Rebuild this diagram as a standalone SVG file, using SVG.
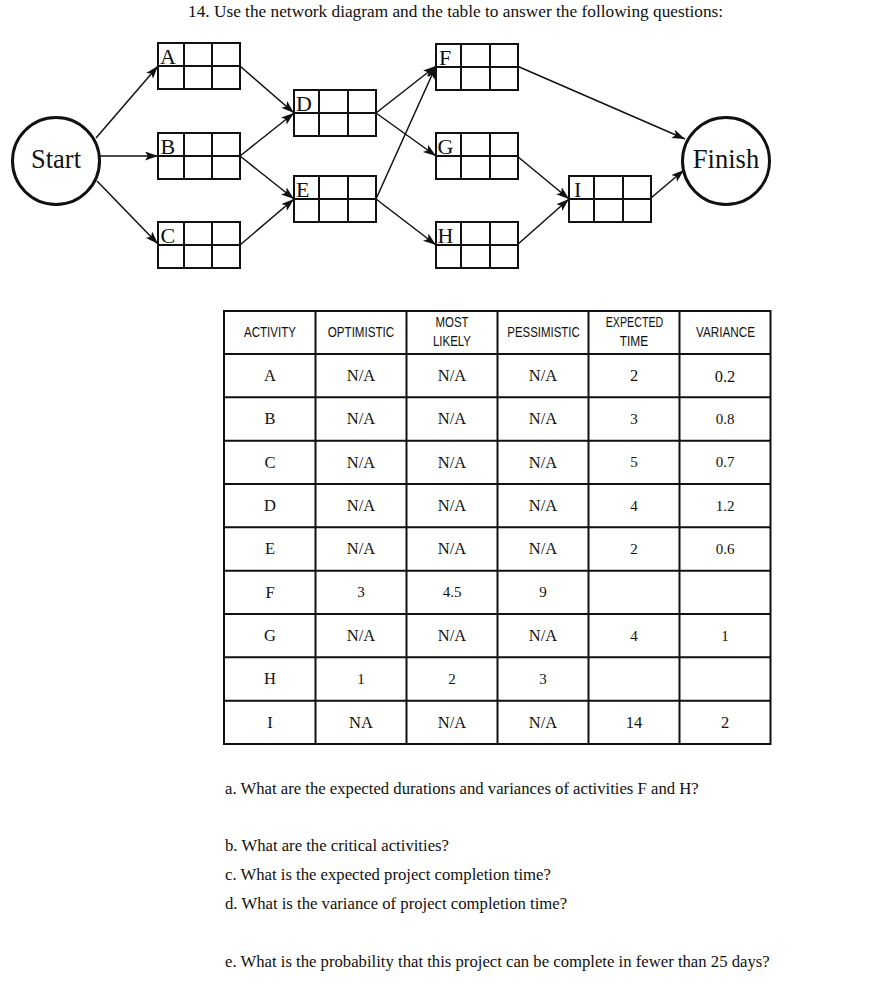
<svg xmlns="http://www.w3.org/2000/svg" width="876" height="994" viewBox="0 0 876 994">
<defs>
<style>
.bg{fill:#fff}
.box{fill:#fff;stroke:#111;stroke-width:2}
.cell{stroke:#111;stroke-width:2;fill:none}
.circ{fill:#fff;stroke:#111;stroke-width:3}
.lbl{font-family:"Liberation Serif","Times New Roman",serif;font-size:22px;fill:#111}
.big{font-family:"Liberation Serif","Times New Roman",serif;font-size:26.5px;fill:#111;text-anchor:middle}
.edge{stroke:#111;stroke-width:1.5;fill:none;marker-end:url(#ah)}
.grid{stroke:#111;stroke-width:2;fill:none}
.hd{font-family:"Liberation Sans",Arial,sans-serif;font-size:14.5px;fill:#111;text-anchor:middle}
.td{font-family:"Liberation Serif","Times New Roman",serif;font-size:16.5px;fill:#111;text-anchor:middle}
.sm{font-size:15px}
.q{font-family:"Liberation Serif","Times New Roman",serif;font-size:16.7px;fill:#111}
</style>
<marker id="ah" markerUnits="userSpaceOnUse" markerWidth="14" markerHeight="10" refX="13" refY="4.5" orient="auto">
<path d="M0,0 L13,4.5 L0,9 L3,4.5 z" fill="#111"/>
</marker>
</defs>
<rect class="bg" x="0" y="0" width="876" height="994"/>
<text id="title" x="188" y="17" font-family="'Liberation Serif','Times New Roman',serif" font-size="17.3" fill="#111">14. Use the network diagram and the table to answer the following questions:</text>

<g id="connectors">
<line class="edge" x1="96" y1="138" x2="158" y2="66"/>
<line class="edge" x1="100" y1="156" x2="158" y2="156"/>
<line class="edge" x1="97" y1="181" x2="158" y2="244"/>
<line class="edge" x1="240" y1="66" x2="294" y2="113"/>
<line class="edge" x1="240" y1="156" x2="294" y2="113"/>
<line class="edge" x1="240" y1="156" x2="294" y2="199"/>
<line class="edge" x1="240" y1="245" x2="294" y2="199"/>
<line class="edge" x1="376" y1="113" x2="436" y2="66"/>
<line class="edge" x1="376" y1="113" x2="436" y2="156"/>
<line class="edge" x1="376" y1="199" x2="436" y2="66"/>
<line class="edge" x1="376" y1="199" x2="436" y2="245"/>
<line class="edge" x1="517" y1="66" x2="685" y2="139"/>
<line class="edge" x1="517" y1="156" x2="569" y2="199"/>
<line class="edge" x1="517" y1="245" x2="569" y2="199"/>
<line class="edge" x1="651" y1="198" x2="684" y2="170"/>
</g>

<g id="start"><circle class="circ" cx="56" cy="161" r="43.5"/><text class="big" x="56" y="168">Start</text></g>
<g id="finish"><circle class="circ" cx="726" cy="161" r="43.5"/><text class="big" x="726" y="168">Finish</text></g>

<g id="A"><rect class="box" x="158" y="43" width="82" height="46"/><path class="cell" d="M158,66H240M184,43V89M212,43V89"/><text class="lbl" x="160" y="63.5">A</text></g>
<g id="B"><rect class="box" x="158" y="133" width="82" height="46"/><path class="cell" d="M158,156H240M184,133V179M212,133V179"/><text class="lbl" x="160.5" y="153.5">B</text></g>
<g id="C"><rect class="box" x="158" y="222" width="82" height="46"/><path class="cell" d="M158,245H240M184,222V268M212,222V268"/><text class="lbl" x="160.5" y="242.5">C</text></g>
<g id="D"><rect class="box" x="294" y="90" width="82" height="46"/><path class="cell" d="M294,113H376M319,90V136M348,90V136"/><text class="lbl" x="296" y="110.5">D</text></g>
<g id="E"><rect class="box" x="294" y="176" width="82" height="46"/><path class="cell" d="M294,199H376M319,176V222M348,176V222"/><text class="lbl" x="296" y="196.5">E</text></g>
<g id="F"><rect class="box" x="436" y="44" width="82" height="46"/><path class="cell" d="M436,67H518M461,44V90M490,44V90"/><text class="lbl" x="439" y="64.5">F</text></g>
<g id="G"><rect class="box" x="436" y="133" width="82" height="46"/><path class="cell" d="M436,156H518M461,133V179M490,133V179"/><text class="lbl" x="437.5" y="153.5">G</text></g>
<g id="H"><rect class="box" x="436" y="222" width="82" height="46"/><path class="cell" d="M436,245H518M461,222V268M490,222V268"/><text class="lbl" x="437.5" y="242.5">H</text></g>
<g id="I"><rect class="box" x="569" y="176" width="82" height="46"/><path class="cell" d="M569,199H651M594,176V222M623,176V222"/><text class="lbl" x="574" y="196.5">I</text></g>

<g id="table">
<rect class="grid" x="224" y="311" width="546.5" height="433"/>
<path class="grid" d="M315.5,311V744M406.5,311V744M497.5,311V744M588.5,311V744M679.5,311V744
M224,354H770.5M224,397.3H770.5M224,440.7H770.5M224,484H770.5M224,527.3H770.5M224,570.7H770.5M224,614H770.5M224,657.3H770.5M224,700.7H770.5"/>
<text class="hd" x="270" y="337" textLength="52" lengthAdjust="spacingAndGlyphs">ACTIVITY</text>
<text class="hd" x="361" y="337" textLength="66.5" lengthAdjust="spacingAndGlyphs">OPTIMISTIC</text>
<text class="hd" x="452" y="327" textLength="33" lengthAdjust="spacingAndGlyphs">MOST</text>
<text class="hd" x="452" y="346" textLength="38" lengthAdjust="spacingAndGlyphs">LIKELY</text>
<text class="hd" x="543.5" y="337" textLength="72.5" lengthAdjust="spacingAndGlyphs">PESSIMISTIC</text>
<text class="hd" x="634.5" y="327" textLength="57.5" lengthAdjust="spacingAndGlyphs">EXPECTED</text>
<text class="hd" x="634" y="346" textLength="28.5" lengthAdjust="spacingAndGlyphs">TIME</text>
<text class="hd" x="725.5" y="337" textLength="59" lengthAdjust="spacingAndGlyphs">VARIANCE</text>

<text class="td" x="270" y="381">A</text><text class="td" x="361" y="381">N/A</text><text class="td" x="452" y="381">N/A</text><text class="td" x="543" y="381">N/A</text><text class="td" x="634" y="381" font-size="16">2</text><text class="td" x="725" y="381.5" font-size="17.5">0.2</text>
<text class="td" x="270" y="424">B</text><text class="td" x="361" y="424">N/A</text><text class="td" x="452" y="424">N/A</text><text class="td" x="543" y="424">N/A</text><text class="td sm" x="634" y="423.5">3</text><text class="td sm" x="725" y="423.5">0.8</text>
<text class="td" x="270" y="467.5">C</text><text class="td" x="361" y="467.5">N/A</text><text class="td" x="452" y="467.5">N/A</text><text class="td" x="543" y="467.5">N/A</text><text class="td sm" x="634" y="467">5</text><text class="td sm" x="725" y="467">0.7</text>
<text class="td" x="270" y="511">D</text><text class="td" x="361" y="511">N/A</text><text class="td" x="452" y="511">N/A</text><text class="td" x="543" y="511">N/A</text><text class="td sm" x="634" y="510.5">4</text><text class="td sm" x="725" y="510.5">1.2</text>
<text class="td" x="270" y="554">E</text><text class="td" x="361" y="554">N/A</text><text class="td" x="452" y="554">N/A</text><text class="td" x="543" y="554">N/A</text><text class="td sm" x="634" y="553.5">2</text><text class="td sm" x="725" y="553.5">0.6</text>
<text class="td" x="270" y="597.5">F</text><text class="td sm" x="361" y="597">3</text><text class="td sm" x="452" y="597">4.5</text><text class="td sm" x="543" y="597">9</text>
<text class="td" x="270" y="641">G</text><text class="td" x="361" y="641">N/A</text><text class="td" x="452" y="641">N/A</text><text class="td" x="543" y="641">N/A</text><text class="td sm" x="634" y="640.5">4</text><text class="td sm" x="725" y="640.5">1</text>
<text class="td" x="270" y="684">H</text><text class="td sm" x="361" y="684">1</text><text class="td sm" x="452" y="684">2</text><text class="td sm" x="543" y="684">3</text>
<text class="td" x="270" y="727.5">I</text><text class="td" x="361" y="727.5">NA</text><text class="td" x="452" y="727.5">N/A</text><text class="td" x="543" y="727.5">N/A</text><text class="td" x="634" y="727.5" font-size="16.5">14</text><text class="td" x="725" y="727.5" font-size="16.5">2</text>
</g>

<g id="questions">
<text class="q" x="225" y="794">a. What are the expected durations and variances of activities F and H?</text>
<text class="q" x="225" y="851">b. What are the critical activities?</text>
<text class="q" x="225" y="880">c. What is the expected project completion time?</text>
<text class="q" x="225" y="909">d. What is the variance of project completion time?</text>
<text class="q" x="225" y="967">e. What is the probability that this project can be complete in fewer than 25 days?</text>
</g>
</svg>
